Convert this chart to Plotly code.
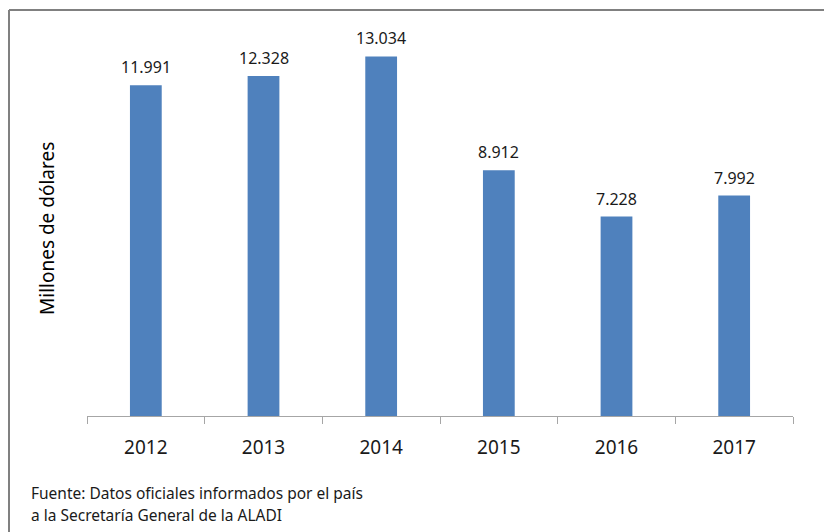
import plotly.graph_objects as go

years = ["2012", "2013", "2014", "2015", "2016", "2017"]
values = [11991, 12328, 13034, 8912, 7228, 7992]
y_title = "Millones de dólares"
source_lines = ["Fuente: Datos oficiales informados por el país",
                "a la Secretaría General de la ALADI"]

OFF = 8  # page body margin
W, H = 832 - OFF, 532 - OFF
L, R, T, B = 87 - OFF, 39, 16 - OFF, 116
pw, ph = W - L - R, H - T - B
# convert window pixel positions to paper coordinates
px = lambda x: (x - OFF - L) / pw
py = lambda y: (H - B - (y - OFF)) / ph

fig = go.Figure(go.Bar(x=years, y=values, marker_color="#4F81BD",
                       marker_line_width=0, hoverinfo="skip"))

ann = []
for i, v in enumerate(values):
    ann.append(dict(x=i, y=v, text=f"{v:,}".replace(",", "."), showarrow=False,
                    yanchor="bottom", yshift=5,
                    font=dict(family="Noto Sans", size=16, color="#1a1a1a")))
ann.append(dict(xref="paper", yref="paper", x=px(47), y=py(229), text=y_title,
                textangle=-90, showarrow=False, xanchor="center", yanchor="middle",
                font=dict(family="Noto Sans", size=19, color="#000000")))
for i, line in enumerate(source_lines):
    ann.append(dict(xref="paper", yref="paper", x=px(29), y=py(493 + 22 * i), text=line,
                    showarrow=False, xanchor="left", yanchor="middle",
                    font=dict(family="Noto Sans", size=15.5, color="#1a1a1a")))

shapes = [
    dict(type="line", xref="paper", yref="paper", x0=px(9), x1=px(840), y0=py(10), y1=py(10),
         line=dict(color="#808080", width=2)),
    dict(type="line", xref="paper", yref="paper", x0=px(9), x1=px(9), y0=py(10), y1=py(540),
         line=dict(color="#808080", width=2)),
]

fig.update_layout(
    width=W, height=H, margin=dict(l=L, r=R, t=T, b=B),
    paper_bgcolor="white", plot_bgcolor="white",
    bargap=0.73, showlegend=False,
    annotations=ann, shapes=shapes,
    xaxis=dict(type="category", range=[-0.5, len(years) - 0.5],
               showline=True, linecolor="#a6a6a6", linewidth=1,
               ticks="outside", tickson="boundaries", ticklen=7, tickcolor="#a6a6a6",
               ticklabelstandoff=14, showgrid=False, tickangle=0,
               tickfont=dict(family="Noto Sans", size=19, color="#1a1a1a")),
    yaxis=dict(range=[0, 14500], visible=False, showgrid=False),
)

fig.write_html("out.html")
